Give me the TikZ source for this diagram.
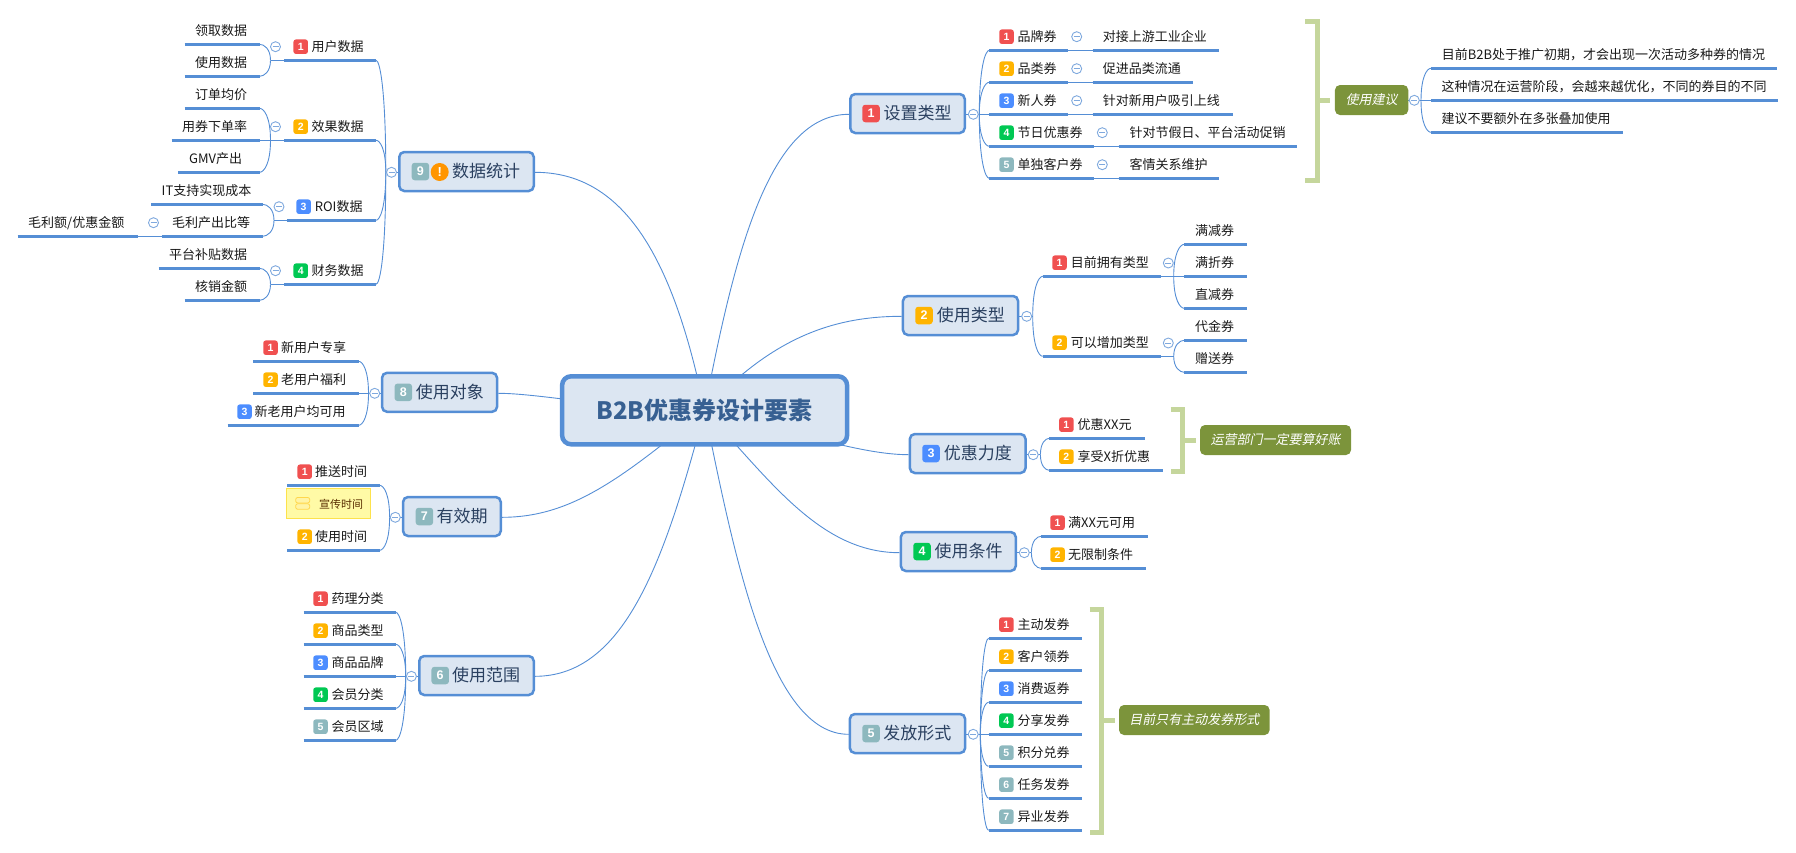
\documentclass[tikz,border=0pt]{standalone}
\usepackage{fontspec}
\setmainfont{Noto Sans CJK SC}
\newfontfamily\slantcjk[FakeSlant=0.2]{Noto Sans CJK SC}
\newfontfamily\digitfont{Liberation Sans}
\usetikzlibrary{calc,backgrounds}
\definecolor{lineblue}{HTML}{558ED5}
\definecolor{topicfill}{HTML}{DCE6F2}
\definecolor{topictext}{HTML}{2A4060}
\definecolor{maintext}{HTML}{376092}
\definecolor{cr}{HTML}{F05050}
\definecolor{co}{HTML}{FFB400}
\definecolor{cb}{HTML}{4C8DFF}
\definecolor{cg}{HTML}{00C853}
\definecolor{ct}{HTML}{8DB8BE}
\definecolor{warn}{HTML}{FF9500}
\definecolor{callfill}{HTML}{7C943B}
\definecolor{brk}{HTML}{C5D69C}
\definecolor{togc}{HTML}{7FA9DE}
\tikzset{
 lead/.style={draw=lineblue,line width=3pt},
 conn/.style={draw=lineblue,line width=0.9pt},
 lbl/.style={anchor=base west,inner sep=0pt,text=black!90,font=\fontsize{13}{15}\selectfont},
 smallbadge/.style={rounded corners=2.5pt,minimum size=14.5pt,inner sep=0pt,text=white,font=\digitfont\bfseries\fontsize{10.5}{12}\selectfont},
 bigbadge/.style={rounded corners=3pt,minimum size=17.5pt,inner sep=0pt,text=white,font=\digitfont\bfseries\fontsize{12.5}{14}\selectfont},
 topic/.style={draw=lineblue,fill=topicfill,line width=2.5pt,rounded corners=5pt,minimum height=39pt,inner sep=0pt},
 topictxt/.style={anchor=base west,inner sep=0pt,text=topictext,font=\fontsize{17}{20}\selectfont},
 mainnode/.style={draw=lineblue,fill=topicfill,line width=4.5pt,rounded corners=9pt,minimum width=285pt,minimum height=68pt,inner sep=0pt,text=maintext,font=\bfseries\fontsize{24}{28}\selectfont},
 callout/.style={fill=callfill,rounded corners=5pt,minimum height=30pt,inner sep=0pt,text=white,font=\slantcjk\fontsize{13}{15}\selectfont},
 tog/.style={circle,draw=togc,fill=white,line width=0.9pt,minimum size=10pt,inner sep=0pt},
 togbar/.style={draw=togc,line width=0.9pt},
 brkt/.style={draw=brk,line width=5pt,miter limit=10},
 note/.style={draw=yellow!75!orange!70,fill=yellow!35,line width=0.7pt,minimum width=84pt,minimum height=30.5pt,inner sep=0pt},
 notetxt/.style={anchor=base west,inner sep=0pt,text=black!65!orange,font=\fontsize{11}{13}\selectfont},
}
\newcommand{\leaf}[6]{%
 \coordinate (#1-l) at (#2,#4); \coordinate (#1-r) at (#3,#4);
 \draw[lead] (#1-l) -- (#1-r);
 \node[lbl] (#1) at (#5,#4-8.7) {#6};}
\newcommand{\bleaf}[9]{%
 \leaf{#1}{#2}{#3}{#4}{#8}{#9}
 \node[smallbadge,fill=#6] (#1-b) at (#5,#4-13.6) {#7};}
\newcommand{\topicnode}[9]{%
 \pgfmathsetmacro\tcx{(#2+#3)/2}\pgfmathsetmacro\tw{#3-#2-2.5}
 \node[topic,minimum width=\tw pt] (#1) at (\tcx,#4) {};
 \node[bigbadge,fill=#6] (#1-b) at (#5,#4) {#7};
 \node[topictxt] (#1-t) at (#8,#4+6.4) {#9};}
\newcommand{\togg}[3]{%
 \node[tog] (#1) at (#2,#3) {};
 \draw[togbar] ($(#1)+(-3,0)$) -- ($(#1)+(3,0)$);}
% curved branch from a junction to the end of a line
\newcommand{\fan}[2]{\draw[conn] (#1) .. controls ($(#1)!0.72!(#1 |- #2)$) and ($(#2)!0.42!(#1 |- #2)$) .. (#2);}
\begin{document}
\begin{tikzpicture}[x=1pt,y=-1pt]
\useasboundingbox (0,0) rectangle (1796,852);

\node[mainnode] (c) at (704.6,410.3) {B2B优惠券设计要素};

% ---- topics
\topicnode{n1}{849}{966}{113.5}{871}{cr}{1}{883.3}{设置类型}
\topicnode{n2}{901.7}{1019.3}{315.5}{924}{co}{2}{936.7}{使用类型}
\topicnode{n3}{908.6}{1026.8}{453.5}{931}{cb}{3}{943.6}{优惠力度}
\topicnode{n4}{899.6}{1017}{551.5}{922}{cg}{4}{934.3}{使用条件}
\topicnode{n5}{848.6}{966.4}{733.5}{871}{ct}{5}{883.2}{发放形式}
\topicnode{n6}{418}{535}{675.5}{440.2}{ct}{6}{452}{使用范围}
\topicnode{n7}{401.8}{502}{516.5}{424.4}{ct}{7}{436.3}{有效期}
\topicnode{n8}{380.8}{498.3}{392.3}{403.3}{ct}{8}{415.6}{使用对象}
\topicnode{n9}{398}{535}{171.5}{420.4}{ct}{9}{452}{数据统计}
\node[circle,fill=warn,minimum size=18pt,inner sep=0pt,text=white,font=\digitfont\bfseries\fontsize{13}{14}\selectfont] (n9-w) at (439.7,172) {!};

% ---- junctions and collapse marks of topics
\coordinate (n1-j) at (979.3,114.3); \togg{n1-o}{973.3}{114.3}
\coordinate (n2-j) at (1032.7,316.3); \togg{n2-o}{1026.7}{316.3}
\coordinate (n3-j) at (1040.4,454.7); \togg{n3-o}{1033.2}{454.7}
\coordinate (n4-j) at (1031.4,552.7); \togg{n4-o}{1024.3}{552.7}
\coordinate (n5-j) at (980.4,734.3); \togg{n5-o}{973.2}{734.3}
\coordinate (n6-j) at (405.7,676.3); \togg{n6-o}{411.4}{676.3}
\coordinate (n7-j) at (389.6,517.3); \togg{n7-o}{395.3}{517.3}
\coordinate (n8-j) at (368.5,393.3); \togg{n8-o}{374.7}{393.3}
\coordinate (n9-j) at (385.8,172.3); \togg{n9-o}{391.5}{172.3}

% ---- n1 children
\bleaf{a1}{989.3}{1068.3}{50.3}{1006.5}{cr}{1}{1017.3}{品牌券}
\bleaf{a2}{989.3}{1068.3}{82.3}{1006.5}{co}{2}{1017.3}{品类券}
\bleaf{a3}{989.3}{1068.3}{114.3}{1006.5}{cb}{3}{1017.3}{新人券}
\bleaf{a4}{989.3}{1094.3}{146.3}{1006.5}{cg}{4}{1017.3}{节日优惠券}
\bleaf{a5}{989.3}{1094.3}{178.3}{1006.5}{ct}{5}{1017.3}{单独客户券}
\leaf{a1x}{1092.7}{1219.3}{50.3}{1102.7}{对接上游工业企业}
\leaf{a2x}{1092.7}{1193.3}{82.3}{1102.7}{促进品类流通}
\leaf{a3x}{1092.7}{1232.7}{114.3}{1102.7}{针对新用户吸引上线}
\leaf{a4x}{1118.7}{1297.3}{146.3}{1129.3}{针对节假日、平台活动促销}
\leaf{a5x}{1118.7}{1219.3}{178.3}{1129.3}{客情关系维护}
\togg{a1-o}{1076.7}{36.7}\togg{a2-o}{1076.7}{68.7}\togg{a3-o}{1076.7}{100.7}
\togg{a4-o}{1102.3}{132.7}\togg{a5-o}{1102.3}{164.7}

% ---- bracket + callout 1
\node[callout,minimum width=73.3pt] (k1) at (1371.6,100) {使用建议};
\coordinate (k1-j) at (1421,100.3); \togg{k1-o}{1414.3}{100.3}
\coordinate (k1-s) at (1317.5,100.3);
\draw[brkt] (1305.3,21.8) -- (1317.5,21.8) -- (1317.5,180.2) -- (1305.3,180.2);
\leaf{s1}{1431}{1776.7}{68.3}{1441.7}{目前B2B处于推广初期，才会出现一次活动多种券的情况}
\leaf{s2}{1431}{1778.3}{100.3}{1441.3}{这种情况在运营阶段，会越来越优化，不同的券目的不同}
\leaf{s3}{1431}{1622.7}{132.3}{1441.3}{建议不要额外在多张叠加使用}

% ---- n2 children
\bleaf{b1}{1042.7}{1160.7}{276.3}{1059.5}{cr}{1}{1070.7}{目前拥有类型}
\bleaf{b2}{1042.7}{1160.7}{356.3}{1059.5}{co}{2}{1070.7}{可以增加类型}
\coordinate (b1-j) at (1173.7,276.3); \coordinate (b2-j) at (1173.7,356.3);
\togg{b1-o}{1168.3}{263}\togg{b2-o}{1168.3}{343}
\leaf{b11}{1184.3}{1246.7}{244.3}{1195}{满减券}
\leaf{b12}{1184.3}{1246.7}{276.3}{1195}{满折券}
\leaf{b13}{1184.3}{1246.7}{308.3}{1195}{直减券}
\leaf{b21}{1184.3}{1246.7}{340.3}{1195}{代金券}
\leaf{b22}{1184.3}{1246.7}{372.3}{1195}{赠送券}

% ---- n3 children
\bleaf{c1}{1049.3}{1144.6}{438.3}{1066.4}{cr}{1}{1077.5}{优惠XX元}
\bleaf{c2}{1049.3}{1162.5}{470.3}{1066.4}{co}{2}{1077.5}{享受X折优惠}
\node[callout,minimum width=151pt] (k2) at (1275.5,440) {运营部门一定要算好账};
\coordinate (k2-s) at (1182.5,440.3);
\draw[brkt] (1170.7,409.8) -- (1182.5,409.8) -- (1182.5,471.8) -- (1170.7,471.8);

% ---- n4 children
\bleaf{d1}{1041}{1148}{536.3}{1057.5}{cr}{1}{1067.9}{满XX元可用}
\bleaf{d2}{1041}{1145.7}{568.3}{1057.5}{co}{2}{1067.9}{无限制条件}

% ---- n5 children
\bleaf{e1}{988.6}{1081.8}{638.3}{1006.4}{cr}{1}{1017.5}{主动发券}
\bleaf{e2}{988.6}{1081.8}{670.3}{1006.4}{co}{2}{1017.5}{客户领券}
\bleaf{e3}{988.6}{1081.8}{702.3}{1006.4}{cb}{3}{1017.5}{消费返券}
\bleaf{e4}{988.6}{1081.8}{734.3}{1006.4}{cg}{4}{1017.5}{分享发券}
\bleaf{e5}{988.6}{1081.8}{766.3}{1006.4}{ct}{5}{1017.5}{积分兑券}
\bleaf{e6}{988.6}{1081.8}{798.3}{1006.4}{ct}{6}{1017.5}{任务发券}
\bleaf{e7}{988.6}{1081.8}{830.3}{1006.4}{ct}{7}{1017.5}{异业发券}
\node[callout,minimum width=150.6pt] (k3) at (1194.3,720) {目前只有主动发券形式};
\coordinate (k3-s) at (1101.5,720.3);
\draw[brkt] (1089.6,609.8) -- (1101.5,609.8) -- (1101.5,832.5) -- (1089.6,832.5);

% ---- n6 children
\bleaf{f1}{303.5}{395.7}{612.3}{320.5}{cr}{1}{331.4}{药理分类}
\bleaf{f2}{303.5}{395.7}{644.3}{320.5}{co}{2}{331.4}{商品类型}
\bleaf{f3}{303.5}{395.7}{676.3}{320.5}{cb}{3}{331.4}{商品品牌}
\bleaf{f4}{303.5}{395.7}{708.3}{320.5}{cg}{4}{331.4}{会员分类}
\bleaf{f5}{303.5}{395.7}{740.3}{320.5}{ct}{5}{331.4}{会员区域}

% ---- n7 children
\bleaf{g1}{287.4}{379.6}{485.3}{304.7}{cr}{1}{315}{推送时间}
\bleaf{g2}{287.4}{379.6}{550.3}{304.7}{co}{2}{315}{使用时间}
\node[note] (g-n) at (328.5,503.2) {};
\node[notetxt] (g-nt) at (319,508) {宣传时间};
\node[draw=orange!45!yellow!70,fill=orange!25!yellow!35,line width=0.8pt,rounded corners=2pt,minimum width=14pt,minimum height=5.5pt,inner sep=0pt] (g-i1) at (302.7,500.2) {};
\node[draw=orange!45!yellow!70,fill=orange!25!yellow!35,line width=0.8pt,rounded corners=2pt,minimum width=14pt,minimum height=5.5pt,inner sep=0pt] (g-i2) at (302.7,506.5) {};

% ---- n8 children
\bleaf{h1}{253.4}{358.6}{361.3}{270.5}{cr}{1}{281}{新用户专享}
\bleaf{h2}{253.4}{358.6}{393.3}{270.5}{co}{2}{281}{老用户福利}
\bleaf{h3}{227.7}{358.6}{425.3}{244.5}{cb}{3}{254.5}{新老用户均可用}

% ---- n9 children
\bleaf{i1}{284}{376}{60.3}{300.7}{cr}{1}{311.5}{用户数据}
\bleaf{i2}{284}{376}{140.3}{300.7}{co}{2}{311.5}{效果数据}
\bleaf{i3}{287}{376}{220.3}{303.6}{cb}{3}{314.6}{ROI数据}
\bleaf{i4}{284}{376}{284.3}{300.7}{cg}{4}{311.5}{财务数据}
\coordinate (i1-j) at (270.5,60.3); \coordinate (i2-j) at (270.5,140.3);
\coordinate (i3-j) at (274,220.3); \coordinate (i4-j) at (270.5,284.3);
\togg{i1-o}{275.5}{46.7}\togg{i2-o}{275.5}{126.7}\togg{i3-o}{279}{206.7}\togg{i4-o}{275.5}{270.7}
\leaf{i11}{184.5}{259.5}{44.3}{195}{领取数据}
\leaf{i12}{184.5}{259.5}{76.3}{195}{使用数据}
\leaf{i21}{184.5}{259.5}{108.3}{195}{订单均价}
\leaf{i22}{171.5}{259.5}{140.3}{182}{用券下单率}
\leaf{i23}{178}{259.5}{172.3}{189}{GMV产出}
\leaf{i31}{151}{262.5}{204.3}{161.5}{IT支持实现成本}
\leaf{i32}{161.5}{262.5}{236.3}{172}{毛利产出比等}
\leaf{i33}{17.6}{137.8}{236.3}{28}{毛利额/优惠金额}
\togg{i33-o}{153.5}{222.7}
\leaf{i41}{158.5}{259.5}{268.3}{169}{平台补贴数据}
\leaf{i42}{184.5}{259.5}{300.3}{195}{核销金额}

% ---- connectors, behind everything
\begin{scope}[on background layer]
 \draw[conn] (c.center) .. controls (735,250) and (770,114.3) .. (n1.west |- n1-j);
 \draw[conn] (c.center) .. controls (770,340) and (830,316.3) .. (n2.west |- n2-j);
 \draw[conn] (c.center) .. controls (790,430) and (860,454.7) .. (n3.west |- n3-j);
 \draw[conn] (c.center) .. controls (770,480) and (820,552.7) .. (n4.west |- n4-j);
 \draw[conn] (c.center) .. controls (735,560) and (770,734.3) .. (n5.west |- n5-j);
 \draw[conn] (c.center) .. controls (665,560) and (625,676.3) .. (n6.east |- n6-j);
 \draw[conn] (c.center) .. controls (620,480) and (570,517.3) .. (n7.east |- n7-j);
 \draw[conn] (c.center) .. controls (620,410) and (540,393.3) .. (n8.east |- n8-j);
 \draw[conn] (c.center) .. controls (672,250) and (620,172.3) .. (n9.east |- n9-j);
 \foreach \n in {n1,n2,n3,n4,n5} \draw[conn] (\n.east |- \n-j) -- (\n-j);
 \foreach \n in {n6,n7,n8,n9} \draw[conn] (\n.west |- \n-j) -- (\n-j);
 \draw[conn] (k1.east |- k1-j) -- (k1-j);
 \fan{n1-j}{a1-l}\fan{n1-j}{a2-l}\fan{n1-j}{a4-l}\fan{n1-j}{a5-l}\draw[conn] (n1-j) -- (a3-l);
 \draw[conn] (a1-r) -- (a1x-l); \draw[conn] (a2-r) -- (a2x-l); \draw[conn] (a3-r) -- (a3x-l);
 \draw[conn] (a4-r) -- (a4x-l); \draw[conn] (a5-r) -- (a5x-l);
 \fan{k1-j}{s1-l}\fan{k1-j}{s3-l}\draw[conn] (k1-j) -- (s2-l);
 \fan{n2-j}{b1-l}\fan{n2-j}{b2-l}
 \draw[conn] (b1-r) -- (b1-j); \draw[conn] (b2-r) -- (b2-j);
 \fan{b1-j}{b11-l}\draw[conn] (b1-j) -- (b12-l);\fan{b1-j}{b13-l}
 \fan{b2-j}{b21-l}\fan{b2-j}{b22-l}
 \fan{n3-j}{c1-l}\fan{n3-j}{c2-l}
 \fan{n4-j}{d1-l}\fan{n4-j}{d2-l}
 \fan{n5-j}{e1-l}\fan{n5-j}{e2-l}\fan{n5-j}{e3-l}\draw[conn] (n5-j) -- (e4-l);\fan{n5-j}{e5-l}\fan{n5-j}{e6-l}\fan{n5-j}{e7-l}
 \fan{n6-j}{f1-r}\fan{n6-j}{f2-r}\draw[conn] (n6-j) -- (f3-r);\fan{n6-j}{f4-r}\fan{n6-j}{f5-r}
 \fan{n7-j}{g1-r}\fan{n7-j}{g2-r}
 \fan{n8-j}{h1-r}\draw[conn] (n8-j) -- (h2-r);\fan{n8-j}{h3-r}
 \fan{n9-j}{i1-r}\fan{n9-j}{i2-r}\fan{n9-j}{i3-r}\fan{n9-j}{i4-r}
 \draw[conn] (i1-l) -- (i1-j); \draw[conn] (i2-l) -- (i2-j); \draw[conn] (i3-l) -- (i3-j); \draw[conn] (i4-l) -- (i4-j);
 \fan{i1-j}{i11-r}\fan{i1-j}{i12-r}
 \fan{i2-j}{i21-r}\draw[conn] (i2-j) -- (i22-r);\fan{i2-j}{i23-r}
 \fan{i3-j}{i31-r}\fan{i3-j}{i32-r}
 \fan{i4-j}{i41-r}\fan{i4-j}{i42-r}
 \draw[conn] (i33-r) -- (i32-l);
\end{scope}

% ---- bracket stems
\draw[brkt] (k1-s) -- ($(k1.west)+(-4.3,0.3)$);
\draw[brkt] (k2-s) -- ($(k2.west)+(-4.3,0.3)$);
\draw[brkt] (k3-s) -- ($(k3.west)+(-4.3,0.3)$);
\end{tikzpicture}
\end{document}
